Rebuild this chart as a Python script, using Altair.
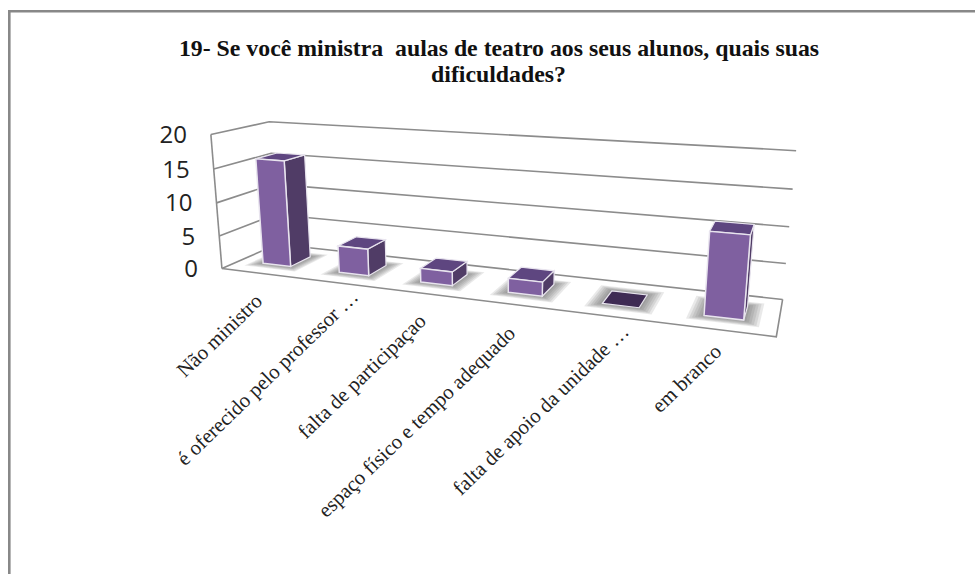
import altair as alt
import numpy as np
import pandas as pd

# Survey answers, one bar per category
categories = [
    "Não ministro",
    "é oferecido pelo professor …",
    "falta de participaçao",
    "espaço físico e tempo adequado",
    "falta de apoio da unidade …",
    "em branco",
]
values = [16, 4, 2, 2, 0, 11]
y_ticks = [0, 5, 10, 15, 20]
title_lines = [
    "19- Se você ministra\u00a0 aulas de teatro aos seus alunos, quais suas",
    "dificuldades?",
]

# Camera: (category position, depth, value) to screen, solved from the box corners
box_world = [(0, 0, 0), (0, 0, 20), (0, 1, 20), (0, 1, 0), (6, 1, 0), (6, 1, 20), (6, 0, 0)]
box_screen = [(223, 268), (210, 134), (270, 122), (276, 245), (783, 298), (796, 151), (776, 338)]
rows, rhs = [], []
for (a, b, c), (px, py) in zip(box_world, box_screen):
    rows.append([a, b, c, 1, 0, 0, 0, 0, -px * a, -px * b, -px * c]); rhs.append(px)
    rows.append([0, 0, 0, 0, a, b, c, 1, -py * a, -py * b, -py * c]); rhs.append(py)
cam = np.append(np.linalg.lstsq(np.array(rows, float), np.array(rhs, float), rcond=None)[0], 1).reshape(3, 4)


def proj(a, b, c):
    h = cam @ np.array([a, b, c, 1.0])
    return float(h[0] / h[2]), float(h[1] / h[2])


BAR_W, BAR_D = 0.37, 0.38
Z0, Z1 = 0.31, 0.31 + BAR_D


def poly_rows(face, colour, corners):
    out = []
    for k, c in enumerate(corners):
        x, y = proj(*c)
        out.append({"face": face, "colour": colour, "k": k, "x": x, "y": y})
    return out


fronts, sides, tops, shadows = [], [], [], []
for i, v in enumerate(values):
    x0, x1 = i + 0.5 - BAR_W / 2, i + 0.5 + BAR_W / 2
    for lv, grow in enumerate([0.15, 0.125, 0.1, 0.075, 0.05, 0.025]):
        shadows += poly_rows(f"s{i}-{lv}", "#555555", [
            (x0 - grow, Z0 - grow * 0.9, 0), (x1 + grow, Z0 - grow * 0.9, 0),
            (x1 + grow, Z1 + grow * 0.9, 0), (x0 - grow, Z1 + grow * 0.9, 0)])
    if v > 0:
        fronts += poly_rows(f"f{i}", "#7F60A0", [(x0, Z0, 0), (x1, Z0, 0), (x1, Z0, v), (x0, Z0, v)])
        sides += poly_rows(f"r{i}", "#503C66", [(x1, Z0, 0), (x1, Z1, 0), (x1, Z1, v), (x1, Z0, v)])
    tops += poly_rows(f"t{i}", "#5E4680" if v > 0 else "#3F2B54",
                      [(x0, Z0, v), (x1, Z0, v), (x1, Z1, v), (x0, Z1, v)])

# Wall grid and floor outline
grid = []
for t in y_ticks:
    for k, c in enumerate([(0, 0, t), (0, 1, t), (6, 1, t)]):
        x, y = proj(*c)
        grid.append({"seg": f"g{t}", "k": k, "x": x, "y": y})
outline = [
    [(0, 0, 0), (0, 0, 20)],
    [(0, 0, 0), (6, 0, 0), (6, 1, 0)],
]
for n, path in enumerate(outline):
    for k, c in enumerate(path):
        x, y = proj(*c)
        grid.append({"seg": f"o{n}", "k": k, "x": x, "y": y})

X = alt.X("x:Q", scale=alt.Scale(domain=[0, 975], range=[0, 975]), axis=None)
Y = alt.Y("y:Q", scale=alt.Scale(domain=[0, 574], range=[0, 574]), axis=None)


def faces(rows_, **mark):
    return alt.Chart(pd.DataFrame(rows_)).mark_line(interpolate="linear-closed", filled=True, **mark).encode(
        x=X, y=Y, detail="face:N", order="k:Q", fill=alt.Fill("colour:N", scale=None))


grid_layer = alt.Chart(pd.DataFrame(grid)).mark_line(color="#8c8c8c", strokeWidth=1.6).encode(
    x=X, y=Y, detail="seg:N", order="k:Q")

# Chart frame: only the left and top sides fall inside the page
frame = pd.DataFrame([
    {"seg": "f", "k": 0, "x": 9.3, "y": 574},
    {"seg": "f", "k": 1, "x": 9.3, "y": 11.3},
    {"seg": "f", "k": 2, "x": 975, "y": 11.3},
])
frame_layer = alt.Chart(frame).mark_line(color="#888888", strokeWidth=2.6).encode(
    x=X, y=Y, detail="seg:N", order="k:Q")

title_df = pd.DataFrame({"t": title_lines, "x": [499, 498.5], "y": [49, 75]})
title_layer = alt.Chart(title_df).mark_text(
    font="Liberation Serif", fontWeight="bold", fontSize=23.8, color="#111111", align="center", baseline="middle"
).encode(x=X, y=Y, text="t:N")

ytick_df = pd.DataFrame([
    {"t": str(t), "x": proj(0, 0, t)[0] - 24, "y": proj(0, 0, t)[1] + 1.5} for t in y_ticks
])
ytick_layer = alt.Chart(ytick_df).mark_text(
    font="Open Sans", fontSize=24, color="#222222", align="right", baseline="middle"
).encode(x=X, y=Y, text="t:N")

# The label block of each category sits at its own distance from the floor edge
label_nudge = [(0, 25), (17, 11), (0, 25), (-2, 26), (13, 12), (-1, 19)]
cat_df = pd.DataFrame([
    {"t": c, "x": proj(i + 0.5, 0, 0)[0] + label_nudge[i][0], "y": proj(i + 0.5, 0, 0)[1] + label_nudge[i][1]}
    for i, c in enumerate(categories)
])
cat_layer = alt.Chart(cat_df).mark_text(
    font="Liberation Serif", fontSize=20.8, color="#222222", align="right", baseline="middle", angle=316
).encode(x=X, y=Y, text="t:N")

chart = alt.layer(
    frame_layer,
    grid_layer,
    faces(shadows, opacity=0.13),
    faces(sides, stroke="#e8e4ee", strokeWidth=1.2),
    faces(tops, stroke="#e8e4ee", strokeWidth=1.2),
    faces(fronts, stroke="#e8e4ee", strokeWidth=1.5),
    title_layer,
    ytick_layer,
    cat_layer,
).properties(width=975, height=574, padding=0, autosize=alt.AutoSizeParams(type="none")).configure_view(stroke=None)

chart.save("out.html", embed_options={"renderer": "svg", "actions": False})
